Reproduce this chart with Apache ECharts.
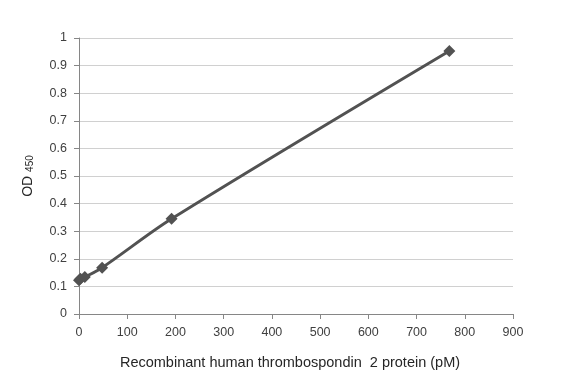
<!DOCTYPE html>
<html><head><meta charset="utf-8">
<script src="https://cdn.jsdelivr.net/npm/echarts@6/dist/echarts.min.js"></script>
<style>html,body{margin:0;padding:0;background:#fff}#c{width:582px;height:382px}</style>
</head><body><div id="c"></div>
<script>
const concentrations = [0, 3, 12, 48, 192, 768];
const odValues = [0.122, 0.128, 0.134, 0.168, 0.345, 0.953];
const xLabelName = 'Recombinant human thrombospondin  2 protein (pM)';

const chart = echarts.init(document.getElementById('c'));
const font = 'Liberation Sans, Arial, sans-serif';
chart.setOption({
  animation: false,
  backgroundColor: '#fff',
  grid: {left: 79, right: 69, top: 38, bottom: 68},
  xAxis: {
    type: 'value', min: 0, max: 900, interval: 100,
    name: xLabelName, nameLocation: 'middle', nameGap: 41,
    nameTextStyle: {fontFamily: font, fontSize: 14.5, color: '#262626', padding: [0, 12, 0, 0]},
    axisLine: {show: true, lineStyle: {color: '#868686', width: 1}},
    axisTick: {show: true, length: 5, lineStyle: {color: '#868686'}},
    axisLabel: {fontFamily: font, fontSize: 12.5, color: '#404040', margin: 12},
    splitLine: {show: false}
  },
  yAxis: {
    type: 'value', min: 0, max: 1, interval: 0.1,
    name: '{a|OD }{b|450}', nameLocation: 'middle', nameGap: 44, nameRotate: 90,
    nameTextStyle: {rich: {
      a: {fontFamily: font, fontSize: 14, color: '#262626'},
      b: {fontFamily: font, fontSize: 10, color: '#262626', verticalAlign: 'bottom'}
    }},
    axisLine: {show: true, lineStyle: {color: '#868686', width: 1}},
    axisTick: {show: true, length: 5, lineStyle: {color: '#868686'}},
    axisLabel: {fontFamily: font, fontSize: 12.5, color: '#404040', margin: 12},
    splitLine: {show: true, lineStyle: {color: '#d0d0d0', width: 1}}
  },
  series: [{
    type: 'line',
    data: concentrations.map((x, i) => [x, odValues[i]]),
    smooth: 0.3,
    symbol: 'diamond', symbolSize: 12,
    itemStyle: {color: '#525252'},
    lineStyle: {color: '#525252', width: 3}
  }]
});
</script></body></html>
